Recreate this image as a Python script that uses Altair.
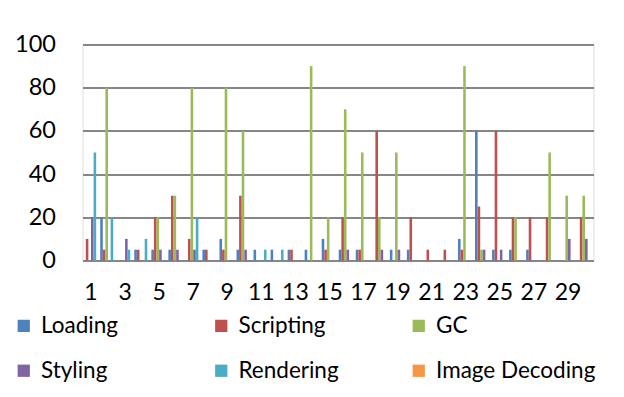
import altair as alt
import pandas as pd

categories = [str(i) for i in range(1, 31)]
series_names = ["Loading", "Scripting", "GC", "Styling", "Rendering", "Image Decoding"]
series_colors = ["#4F81BD", "#C0504D", "#9BBB59", "#8064A2", "#4BACC6", "#F79646"]

loading = [0, 20, 0, 5, 5, 5, 0, 5, 10, 5, 5, 5, 5, 5, 10, 5, 5, 0, 5, 5, 0, 0, 10, 60, 5, 5, 5, 0, 0, 0]
scripting = [10, 5, 0, 5, 20, 30, 10, 5, 5, 30, 0, 0, 5, 0, 5, 20, 5, 60, 0, 20, 5, 5, 5, 25, 60, 20, 20, 20, 0, 20]
gc = [0, 80, 0, 0, 20, 30, 80, 0, 80, 60, 0, 0, 0, 90, 20, 70, 50, 20, 50, 0, 0, 0, 90, 5, 0, 20, 0, 50, 30, 30]
styling = [20, 0, 10, 0, 5, 5, 5, 0, 0, 5, 0, 0, 0, 0, 0, 5, 0, 5, 5, 0, 0, 0, 0, 5, 5, 0, 0, 0, 10, 10]
rendering = [50, 20, 5, 10, 0, 0, 20, 0, 0, 0, 5, 5, 0, 0, 0, 0, 0, 0, 0, 0, 0, 0, 0, 0, 0, 0, 0, 0, 0, 0]
image_decoding = [0, 0, 0, 0, 0, 0, 0, 0, 0, 0, 0, 0, 0, 0, 0, 0, 0, 0, 0, 0, 0, 0, 0, 0, 0, 0, 0, 0, 0, 0]

y_ticks = [0, 20, 40, 60, 80, 100]
x_tick_labels = [str(i) for i in range(1, 30, 2)]

all_series = [loading, scripting, gc, styling, rendering, image_decoding]
rows = []
for name, vals in zip(series_names, all_series):
    for cat, v in zip(categories, vals):
        rows.append({"cat": cat, "series": name, "value": v})
df = pd.DataFrame(rows)

FONT = "Lato"
GRID = "#868686"

chart = alt.Chart(df).transform_filter(
    alt.datum.value > 0
).mark_bar().encode(
    x=alt.X("cat:N", sort=categories,
            scale=alt.Scale(domain=categories, paddingInner=0.085, paddingOuter=0.04),
            axis=alt.Axis(values=x_tick_labels, labelAngle=0, ticks=False, domain=True,
                          domainColor=GRID, domainWidth=2, labelPadding=21,
                          labelFontSize=23, labelColor="black", labelFont=FONT,
                          grid=False, title=None)),
    xOffset=alt.XOffset("series:N", sort=series_names,
                        scale=alt.Scale(domain=series_names, paddingInner=0, paddingOuter=0)),
    y=alt.Y("value:Q", scale=alt.Scale(domain=[0, 100], nice=False),
            axis=alt.Axis(values=y_ticks, grid=True, gridColor=GRID, gridWidth=2,
                          domain=False, ticks=False, labelPadding=27,
                          labelFontSize=23.5, labelColor="black", labelFont=FONT,
                          title=None)),
    color=alt.Color("series:N", sort=series_names,
                    scale=alt.Scale(domain=series_names, range=series_colors),
                    legend=alt.Legend(orient="none", legendX=-70, legendY=270,
                                      direction="horizontal",
                                      columns=3, gridAlign="all", columnPadding=9.5,
                                      rowPadding=22, symbolType="square", symbolSize=150,
                                      symbolStrokeWidth=0, symbolOpacity=1,
                                      labelFontSize=22.5, labelFont=FONT, labelColor="black",
                                      labelOffset=6, labelLimit=300, padding=0, title=None)),
).properties(
    width=511,
    height=216,
    autosize=alt.AutoSizeParams(type="none"),
    padding={"left": 74.5, "top": 36.5, "right": 22.5, "bottom": 128.5},
).configure_view(
    stroke=None
).configure(
    background="white"
)

chart.save("out.html", embed_options={"renderer": "svg", "actions": False})
